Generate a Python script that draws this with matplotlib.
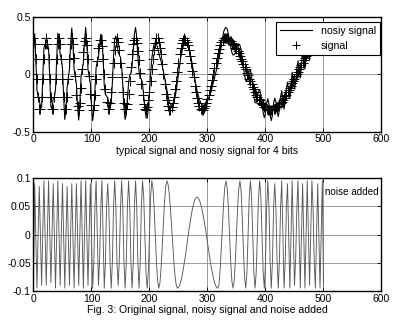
import numpy as np
import matplotlib
matplotlib.use("Agg")
import matplotlib.pyplot as plt

# sample positions (one every 2 samples)
sample_x = np.arange(0, 502, 2)

# original signal, read from the + markers
signal = [
    0.31, 0.26, 0.13, -0.04, -0.20, -0.30, -0.30, -0.20, -0.04, 0.13,
    0.26, 0.31, 0.26, 0.13, -0.04, -0.20, -0.30, -0.30, -0.20, -0.04,
    0.13, 0.26, 0.31, 0.26, 0.13, -0.04, -0.20, -0.30, -0.30, -0.20,
    -0.04, 0.13, 0.26, 0.31, 0.265, 0.14, -0.02, -0.18, -0.28, -0.31,
    -0.25, -0.12, 0.04, 0.19, 0.29, 0.31, 0.25, 0.13, -0.02, -0.17,
    -0.27, -0.31, -0.27, -0.18, -0.04, 0.11, 0.23, 0.30, 0.30, 0.24,
    0.13, 0.0, -0.13, -0.24, -0.30, -0.30, -0.25, -0.155, -0.03, 0.10,
    0.21, 0.28, 0.31, 0.28, 0.21, 0.10, -0.03, -0.155, -0.25, -0.30,
    -0.30, -0.26, -0.17, -0.06, 0.06, 0.17, 0.26, 0.30, 0.31, 0.27,
    0.20, 0.12, 0.01, -0.09, -0.18, -0.26, -0.30, -0.31, -0.29, -0.23,
    -0.155, -0.06, 0.04, 0.13, 0.21, 0.27, 0.31, 0.31, 0.28, 0.23,
    0.17, 0.09, 0.0, -0.09, -0.17, -0.23, -0.28, -0.31, -0.31, -0.29,
    -0.25, -0.20, -0.13, -0.06, 0.02, 0.10, 0.17, 0.23, 0.27, 0.30,
    0.31, 0.30, 0.28, 0.25, 0.21, 0.155, 0.10, 0.03, -0.03, -0.10,
    -0.155, -0.21, -0.25, -0.28, -0.30, -0.31, -0.31, -0.295, -0.28, -0.25,
    -0.22, -0.18, -0.14, -0.10, -0.05, 0.0, 0.05, 0.10, 0.14, 0.18,
    0.22, 0.25, 0.28, 0.295, 0.31, 0.31, 0.31, 0.31, 0.30, 0.29,
    0.285, 0.27, 0.26, 0.25, 0.23, 0.215, 0.20, 0.18, 0.155, 0.13,
    0.11, 0.09, 0.06, 0.04, 0.01, -0.01, -0.04, -0.06, -0.09, -0.11,
    -0.13, -0.155, -0.18, -0.20, -0.215, -0.23, -0.25, -0.26, -0.27, -0.285,
    -0.29, -0.30, -0.31, -0.31, -0.31, -0.31, -0.31, -0.30, -0.30, -0.29,
    -0.285, -0.275, -0.265, -0.25, -0.24, -0.23, -0.21, -0.195, -0.18, -0.16,
    -0.14, -0.12, -0.10, -0.08, -0.06, -0.04, -0.02, 0.0, 0.02, 0.04,
    0.06, 0.08, 0.10, 0.12, 0.14, 0.16, 0.18, 0.195, 0.21, 0.23,
    0.24, 0.25, 0.265, 0.275, 0.285, 0.29, 0.30, 0.30, 0.31, 0.31,
    0.31,
]

# noise added (bottom panel)
noise = [
    -0.09, 0.09, 0.0, -0.095, 0.0, 0.085, 0.0, -0.09, 0.0, 0.095,
    0.0, -0.09, 0.0, 0.095, 0.005, -0.085, 0.0, 0.09, 0.0, -0.095,
    0.0, 0.095, 0.0, -0.09, 0.0, 0.09, 0.0, -0.095, -0.005, 0.085,
    0.0, -0.09, 0.0, 0.09, 0.0, -0.095, 0.0, 0.09, 0.0, -0.09,
    0.0, 0.095, 0.0, -0.095, 0.0, 0.095, 0.0, -0.09, 0.0, 0.09,
    0.0, -0.095, -0.05, 0.05, 0.095, 0.0, -0.09, -0.045, 0.045, 0.095,
    0.0, -0.095, -0.05, 0.05, 0.09, 0.045, -0.045, -0.095, -0.05, 0.05,
    0.095, 0.05, -0.05, -0.09, -0.045, 0.045, 0.095, 0.05, -0.05, -0.095,
    -0.05, 0.05, 0.095, 0.05, -0.05, -0.095, -0.05, 0.05, 0.095, 0.05,
    -0.05, -0.095, -0.05, 0.05, 0.095, 0.067, 0.0, -0.067, -0.095, -0.067,
    0.0, 0.067, 0.095, 0.082, 0.048, 0.0, -0.048, -0.082, -0.095, -0.086,
    -0.059, -0.021, 0.021, 0.059, 0.086, 0.095, 0.089, 0.073, 0.048, 0.017,
    -0.017, -0.048, -0.073, -0.089, -0.095, -0.094, -0.090, -0.083, -0.074, -0.063,
    -0.050, -0.037, -0.022, -0.007, 0.008, 0.021, 0.034, 0.045, 0.054, 0.061,
    0.065, 0.066, 0.065, 0.061, 0.055, 0.047, 0.037, 0.026, 0.013, 0.0,
    -0.0145, -0.028, -0.042, -0.055, -0.066, -0.076, -0.084, -0.090, -0.094, -0.095,
    -0.086, -0.059, -0.021, 0.021, 0.059, 0.086, 0.095, 0.082, 0.048, 0.0,
    -0.048, -0.082, -0.095, -0.082, -0.048, 0.0, 0.048, 0.082, 0.095, 0.077,
    0.029, -0.029, -0.077, -0.095, -0.067, 0.0, 0.067, 0.095, 0.067, 0.0,
    -0.067, -0.095, -0.067, 0.0, 0.067, 0.095, 0.067, 0.0, -0.067, -0.095,
    -0.048, 0.048, 0.095, 0.048, -0.048, -0.095, -0.048, 0.048, 0.09, 0.045,
    -0.045, -0.095, -0.048, 0.048, 0.095, 0.0, -0.095, -0.048, 0.048, 0.09,
    0.0, -0.095, 0.0, 0.095, 0.0, -0.09, -0.045, 0.045, 0.095, 0.0,
    -0.095, 0.0, 0.09, 0.0, -0.095, 0.0, 0.095, 0.0, -0.09, 0.0,
    0.095, 0.048, -0.048, -0.095, 0.0, 0.09, 0.0, -0.095, 0.0, 0.095,
    -0.09,
]

x_ticks = [0, 100, 200, 300, 400, 500, 600]
top_yticks = [-0.5, 0, 0.5]
top_ylabels = ["-0.5", "0", "0.5"]
bot_yticks = [-0.1, -0.05, 0, 0.05, 0.1]
bot_ylabels = ["-0.1", "-0.05", "0", "0.05", "0.1"]

noisy = np.array(signal) + np.array(noise)

plt.rcParams["font.family"] = ["Liberation Sans", "DejaVu Sans"]

fig = plt.figure(figsize=(3.93, 3.2), dpi=100)
ax1 = fig.add_axes([0.0852, 0.589, 0.8855, 0.3594])
ax2 = fig.add_axes([0.0852, 0.0906, 0.8855, 0.3531])

#painel de cima
ax1.plot(sample_x, noisy, color="k", lw=0.8, label="nosiy signal")
ax1.plot(sample_x, signal, ls="none", marker="+", color="k", ms=6.5, mew=0.7, label="signal")
ax1.set_xlim(0, 600)
ax1.set_ylim(-0.5, 0.5)
ax1.set_yticks(top_yticks)
ax1.set_yticklabels(top_ylabels)
ax1.set_xlabel("typical signal and nosiy signal for 4 bits", fontsize=7.6, labelpad=1)
leg = ax1.legend(loc="upper right", bbox_to_anchor=(0.997, 0.955), borderaxespad=0,
                 fontsize=7.6, fancybox=False, edgecolor="k", framealpha=1,
                 handlelength=3.0, handletextpad=0.9, borderpad=0.4, labelspacing=0.5,
                 markerscale=0.8)
leg.get_frame().set_linewidth(0.8)

#painel de baixo
ax2.plot(sample_x, noise, color="0.35", lw=0.65)
ax2.set_xlim(0, 600)
ax2.set_ylim(-0.1, 0.1)
ax2.set_yticks(bot_yticks)
ax2.set_yticklabels(bot_ylabels)
ax2.set_xlabel("Fig. 3: Original signal, noisy signal and noise added", fontsize=7.6, labelpad=1)
ax2.text(502, 0.076, "noise added", fontsize=7.1, va="center", ha="left")

for ax in (ax1, ax2):
    ax.set_xticks(x_ticks)
    ax.grid(True, color="0.55", lw=0.6, ls="-")
    ax.set_axisbelow(True)
    ax.tick_params(direction="in", length=3, width=0.6, top=True, right=True,
                   labelsize=7.5, pad=2)
    for s in ax.spines.values():
        s.set_linewidth(1.0)

plt.savefig("out.png", dpi=100)
